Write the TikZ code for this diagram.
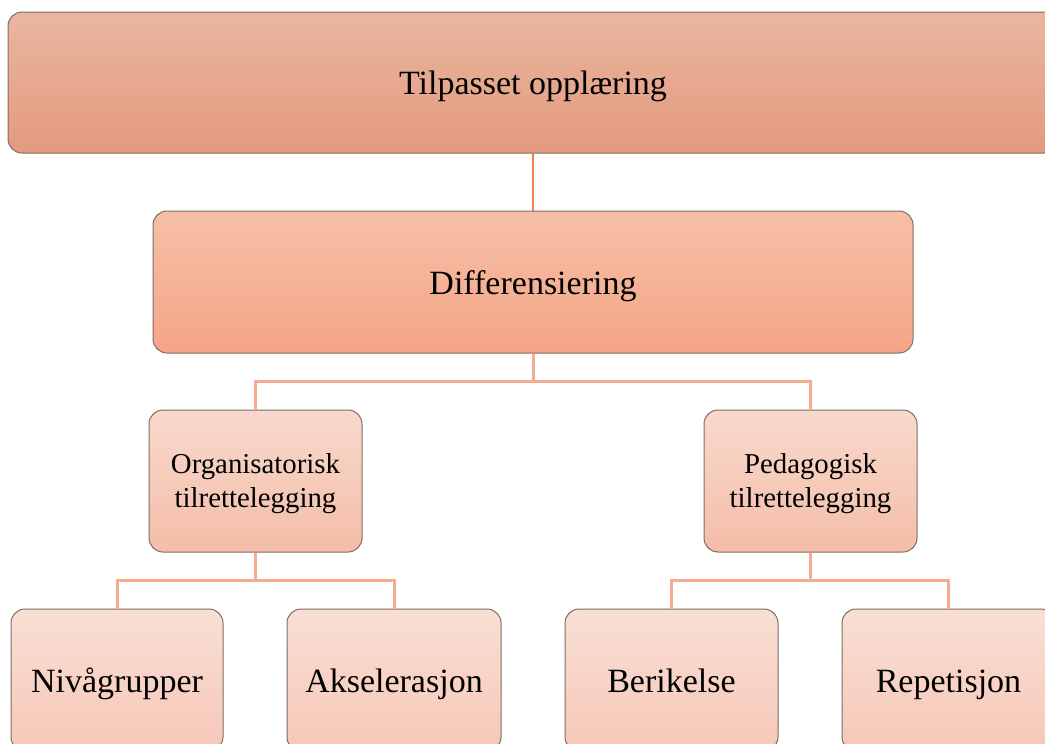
\documentclass[tikz,border=0pt]{standalone}
\usepackage{fontspec}
\setmainfont{Liberation Serif}
\definecolor{bordc}{RGB}{125,110,102}
\definecolor{topA}{RGB}{234,182,160}
\definecolor{topB}{RGB}{227,154,125}
\definecolor{difA}{RGB}{246,191,168}
\definecolor{difB}{RGB}{245,165,134}
\definecolor{midA}{RGB}{248,217,205}
\definecolor{midB}{RGB}{244,189,168}
\definecolor{lowA}{RGB}{249,223,213}
\definecolor{lowB}{RGB}{246,199,184}
\definecolor{conA}{RGB}{238,128,72}
\definecolor{conB}{RGB}{245,172,145}
\tikzset{
  box/.style={rectangle, rounded corners=14pt, draw=bordc, line width=1pt,
    inner sep=0pt, align=center, text=black},
  oneline/.style={text height=30pt, text depth=6pt},
  lvlA/.style={box, oneline, top color=topA, bottom color=topB, minimum width=1050pt, minimum height=141pt,
    font=\fontsize{34}{39}\selectfont},
  lvlB/.style={box, oneline, top color=difA, bottom color=difB, minimum width=760pt, minimum height=142pt,
    font=\fontsize{34}{39}\selectfont},
  lvlC/.style={box, top color=midA, bottom color=midB, minimum width=213pt, minimum height=142pt,
    font=\fontsize{28.8}{34}\selectfont},
  lvlD/.style={box, oneline, top color=lowA, bottom color=lowB, minimum width=213pt, minimum height=142pt,
    font=\fontsize{34}{39}\selectfont},
  conn1/.style={draw=conA, line width=2.5pt},
  conn2/.style={draw=conB, line width=3pt},
}
\begin{document}
\begin{tikzpicture}[x=1pt,y=-1pt]
\useasboundingbox (0,0) rectangle (1045,744);
\clip (0,0) rectangle (1045,744);
\node[lvlA] (top) at (533,82.5) {Tilpasset opplæring};
\node[lvlB] (dif) at (533,282) {Differensiering};
\node[lvlC] (org) at (255.5,481) {\rule{0pt}{25pt}Organisatorisk\\tilrettelegging};
\node[lvlC] (ped) at (810.5,481) {\rule{0pt}{25pt}Pedagogisk\\tilrettelegging};
\node[lvlD, minimum width=212pt] (niv) at (117,680) {Nivågrupper};
\node[lvlD, minimum width=214pt] (aks) at (394,680) {Akselerasjon};
\node[lvlD] (ber) at (671.5,680) {Berikelse};
\node[lvlD] (rep) at (948.5,680) {Repetisjon};
\draw[conn1] (top.south) -- (dif.north);
\draw[conn2] (dif.south) -- ++(0,28) coordinate (j1) -| (org.north);
\draw[conn2] (j1) -| (ped.north);
\draw[conn2] (org.south) -- ++(0,28) coordinate (j2) -| (niv.north);
\draw[conn2] (j2) -| (aks.north);
\draw[conn2] (ped.south) -- ++(0,28) coordinate (j3) -| (ber.north);
\draw[conn2] (j3) -| (rep.north);
\end{tikzpicture}
\end{document}
